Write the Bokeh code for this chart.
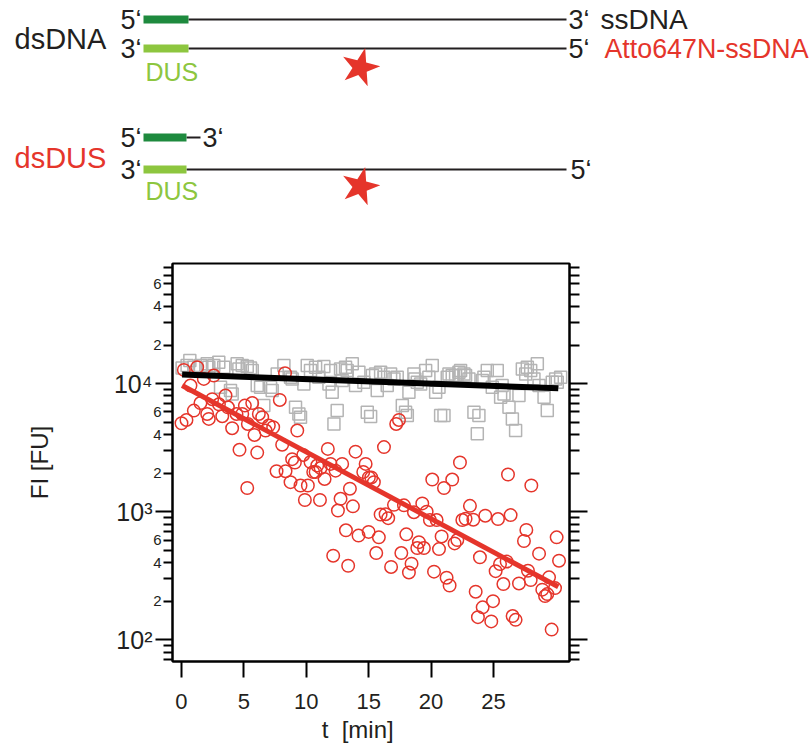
from bokeh.plotting import figure
from bokeh.models import Range1d, FixedTicker, LogAxis, LinearScale
from bokeh.embed import file_html
from bokeh.resources import INLINE
from bokeh.core.properties import value

# ---------------- data ----------------
dsdna_t = [0.05, 0.45, 0.67, 0.99, 1.52, 2.06, 2.19, 2.59, 2.99, 3.13, 3.39, 3.93, 4.06, 4.46, 4.6, 4.87,
           5.27, 5.53, 5.67, 6.07, 6.34, 6.6, 7.14, 7.27, 7.67, 8.21, 8.74, 8.87, 9.14, 9.41, 9.54, 9.81,
           10.08, 10.34, 10.75, 11.01, 11.41, 11.82, 11.95, 12.08, 12.22, 12.48, 12.75, 12.88, 13.15, 13.28,
           13.69, 13.95, 14.22, 14.62, 14.89, 15.16, 15.3, 15.56, 15.69, 15.96, 16.23, 16.49, 16.76, 17.03,
           17.29, 17.7, 17.96, 18.1, 18.23, 18.63, 18.7, 18.9, 19.17, 19.57, 19.83, 20.1, 20.37, 20.64,
           20.77, 21.04, 21.3, 21.44, 21.7, 21.97, 22.24, 22.37, 22.64, 22.77, 23.04, 23.44, 23.71, 23.84,
           24.11, 24.24, 24.51, 24.91, 25.31, 25.58, 25.7, 25.85, 26.25, 26.52, 26.78, 27.05, 27.32, 27.59,
           27.72, 27.99, 28.25, 28.52, 28.66, 29.06, 29.32, 29.72, 29.99, 30.12, 30.39]
dsdna_fi = [13260, 13820, 15130, 13420, 13820, 14260, 13420, 13820, 14680, 9360, 13420, 8820, 8300, 14260, 13020, 13820,
            13580, 13260, 12640, 9650, 9360, 6730, 9360, 8820, 11900, 13820, 11200, 10880, 6530, 5790, 5460, 9940,
            13820, 12640, 13420, 11200, 13580, 9940, 12640, 8560, 4840, 6150, 13020, 10550, 13420, 12640,
            14260, 9650, 12260, 10240, 5970, 5520, 11550, 11900, 8820, 12260, 11200, 9650, 11900, 10880,
            11200, 6730, 5970, 5620, 8560, 11900, 10880, 10240, 9940, 12640, 11200, 13820, 8560, 9360,
            5620, 5620, 11200, 11900, 11550, 11550, 12260, 12640, 11900, 11550, 10880, 5970, 4050, 5620,
            10550, 11200, 12640, 9360, 12640, 7820, 9650, 8300, 6530, 5300, 4300, 8060, 13020, 11900,
            13420, 12640, 10880, 14260, 9650, 7820, 6150, 10240, 10880, 10240, 11200]

dsdus_t = [0.0, 0.19, 0.4, 0.72, 0.99, 1.26, 1.52, 1.79, 2.06, 2.19, 2.46, 2.59, 3.0, 3.27, 3.53, 3.72,
           4.06, 4.41, 4.65, 4.87, 5.08, 5.27, 5.32, 5.67, 5.85, 6.07, 6.2, 6.47, 6.74, 7.0, 7.35, 7.62,
           7.88, 8.07, 8.3, 8.34, 8.74, 8.87, 9.09, 9.28, 9.54, 9.76, 9.89, 10.13, 10.34, 10.56, 10.75, 10.88,
           11.1, 11.15, 11.47, 11.73, 11.95, 12.16, 12.35, 12.54, 12.75, 12.88, 13.18, 13.36, 13.5, 13.74,
           13.95, 14.19, 14.57, 14.76, 15.0, 15.02, 15.21, 15.42, 15.61, 15.82, 15.96, 16.23, 16.36, 16.57,
           16.8, 17.03, 17.21, 17.43, 17.62, 17.83, 18.02, 18.23, 18.44, 18.63, 18.9, 19.03, 19.3, 19.43,
           19.65, 19.91, 20.1, 20.24, 20.45, 20.64, 20.85, 21.04, 21.25, 21.49, 21.7, 21.89, 22.11, 22.32,
           22.51, 22.77, 23.12, 23.39, 23.58, 23.76, 23.92, 24.14, 24.35, 24.83, 24.97, 25.18, 25.37, 25.53,
           25.8, 26.06, 26.17, 26.38, 26.54, 26.78, 27.05, 27.45, 27.64, 27.77, 27.99, 28.04, 28.66, 28.92,
           29.14, 29.32, 29.46, 29.67, 29.94, 30.07, 30.26]
dsdus_fi = [4900, 12790, 5200, 9650, 6150, 13420, 7050, 10880, 5790, 5300, 7550, 11550, 6890, 5560, 8060, 6530,
            4480, 5790, 3040, 5790, 6730, 1530, 4840, 7050, 3970, 2890, 5790, 5460, 4300, 4700, 4560, 2070,
            7450, 3330, 12040, 2070, 1700, 2570, 2420, 4300, 1600, 2770, 1233, 1600, 2440, 2040, 2040, 2290,
            1233, 2190, 1800, 3090, 2360, 453, 2090, 1020, 1260, 2360, 715, 378, 1510, 1100,
            2940, 650, 2040, 2360, 695, 1850, 1850, 1700, 475, 630, 950, 3190, 955, 890,
            370, 1130, 4840, 5200, 475, 1120, 665, 335, 392, 990, 520, 578, 1160, 520,
            1000, 860, 1780, 340, 860, 510, 640, 1530, 305, 265, 1780, 565, 600, 2420,
            860, 880, 1110, 865, 237, 150, 440, 179, 930, 139, 200, 343, 875, 390,
            272, 408, 1950, 940, 153, 143, 275, 590, 720, 346, 292, 1600, 470, 246,
            219, 227, 307, 120, 253, 630, 414]

fit_t = [0.05, 30.2]
fit_dsdna = [11770, 9195]
fit_dsdus = [9650, 259]

x_ticks = [0, 5, 10, 15, 20, 25]
y_decades = [100, 1000, 10000]
y_decade_labels = ["10\u00b2", "10\u00b3", "10\u2074"]
y_minor = [70, 80, 90, 200, 300, 400, 500, 600, 700, 800, 900,
           2000, 3000, 4000, 5000, 6000, 7000, 8000, 9000,
           20000, 30000, 40000, 50000, 60000, 70000, 80000]
y_mid = [200, 400, 600, 2000, 4000, 6000, 20000, 40000, 60000]
y_mid_labels = ["2", "4", "6", "2", "4", "6", "2", "4", "6"]

FONT = "Liberation Sans"
INK = "#231f20"
RED = "#e5352b"
GRAY = "#b4b4b4"
DKGREEN = "#1e8a3e"
LTGREEN = "#8dc63f"
NB = "\u00a0"

# page geometry (page pixels; figure sits at the page origin)
W, H = 810, 749
FL, FR, FT, FB = 172, 569, 263, 661

p = figure(frame_width=FR - FL, frame_height=FB - FT, y_axis_type="log",
           x_range=Range1d(-0.72, 31.1), y_range=Range1d(67.6, 86600),
           toolbar_location=None, output_backend="svg",
           min_border_left=FL, min_border_right=W - FR, min_border_top=FT, min_border_bottom=H - FB)
p.grid.visible = False
p.outline_line_color = "black"
p.outline_line_width = 2
p.background_fill_color = None
p.border_fill_color = None

# page-pixel ranges for the schematic (drawn above the frame, unclipped)
p.extra_x_ranges = {"px": Range1d(FL, FR)}
p.extra_y_ranges = {"py": Range1d(FB, FT)}
p.extra_x_scales = {"px": LinearScale()}
p.extra_y_scales = {"py": LinearScale()}
PX = dict(x_range_name="px", y_range_name="py", level="overlay")

# ---------------- scatter + fits ----------------
p.scatter(dsdna_t, dsdna_fi, marker="square", size=12, fill_color=None, line_color=GRAY, line_width=1.5)
p.scatter(dsdus_t, dsdus_fi, marker="circle", size=12.5, fill_color=None, line_color=RED, line_width=1.5)
p.line(fit_t, fit_dsdna, line_color="black", line_width=6)
p.line(fit_t, fit_dsdus, line_color=RED, line_width=5)

# x axis
xa = p.xaxis[0]
xa.ticker = FixedTicker(ticks=x_ticks)
xa.major_tick_in = 0
xa.major_tick_out = 16
xa.major_tick_line_width = 2
xa.minor_tick_line_color = None
xa.axis_line_width = 2
xa.major_label_text_font = FONT
xa.major_label_text_font_size = "22px"
xa.major_label_text_color = INK
xa.major_label_standoff = 16
xa.axis_label = "t" + NB + " [min]" + NB * 4
xa.axis_label_text_font = FONT
xa.axis_label_text_font_size = "24px"
xa.axis_label_text_font_style = "normal"
xa.axis_label_text_color = INK
xa.axis_label_standoff = 4

# main y axis
ya = p.yaxis[0]
ya.ticker = FixedTicker(ticks=y_decades, minor_ticks=y_minor)
ya.major_label_overrides = dict(zip(y_decades, y_decade_labels))
ya.major_tick_in = 0
ya.major_tick_out = 17
ya.minor_tick_in = 0
ya.minor_tick_out = 9
ya.major_tick_line_width = 2
ya.minor_tick_line_width = 2
ya.axis_line_width = 2
ya.major_label_text_font = FONT
ya.major_label_text_font_size = "25px"
ya.major_label_text_color = INK
ya.major_label_standoff = 3
ya.axis_label = "FI [FU]"
ya.axis_label_text_font = FONT
ya.axis_label_text_font_size = "24px"
ya.axis_label_text_font_style = "normal"
ya.axis_label_text_color = INK
ya.axis_label_standoff = 58

# 2/4/6 intermediate labels on the left axis
p.text(x=[FL - 11] * len(y_mid), y=y_mid, text=y_mid_labels, x_range_name="px", level="overlay",
       text_align="right", text_baseline="middle", text_font=value(FONT), text_font_size="15px",
       text_color=INK)

# right axis
yr = LogAxis(ticker=FixedTicker(ticks=y_decades, minor_ticks=y_minor))
yr.major_label_overrides = {v: "" for v in y_decades}
yr.major_tick_in = 0
yr.major_tick_out = 18
yr.minor_tick_in = 0
yr.minor_tick_out = 10
yr.major_tick_line_width = 2
yr.minor_tick_line_width = 2
yr.axis_line_width = 2
p.add_layout(yr, "right")

# ---------------- schematic (page pixel coordinates) ----------------
strand_lines = [(188, 566, 19), (188, 566, 48), (186, 200, 137), (186, 566, 169)]
for x0, x1, y in strand_lines:
    p.line([x0, x1], [y, y], line_color=INK, line_width=2, **PX)
bars = [(143, 188, 19, DKGREEN), (143, 188, 48, LTGREEN), (143, 186, 137, DKGREEN), (143, 186, 169, LTGREEN)]
for l, r, y, c in bars:
    p.quad(left=l, right=r, top=y - 4, bottom=y + 4, fill_color=c, line_color=None, **PX)

labels = [
    (141, 19, "5\u2018", INK, "right", 27), (568, 19, "3\u2018", INK, "left", 27), (600, 19, "ssDNA", INK, "left", 28),
    (141, 48, "3\u2018", INK, "right", 27), (568, 48, "5\u2018", INK, "left", 27),
    (604, 48, "Atto647N-ssDNA", RED, "left", 26.8),
    (14, 38, "dsDNA", INK, "left", 29), (145, 71, "DUS", LTGREEN, "left", 25),
    (141, 137, "5\u2018", INK, "right", 27), (202, 137, "3\u2018", INK, "left", 27),
    (141, 169, "3\u2018", INK, "right", 27), (570, 169, "5\u2018", INK, "left", 27),
    (14, 157, "dsDUS", RED, "left", 29), (145, 190, "DUS", LTGREEN, "left", 25),
]
for x, y, t, c, a, fs in labels:
    p.text(x=[x], y=[y], text=[t], text_color=c, text_align=a, text_baseline="middle",
           text_font=value(FONT), text_font_size=f"{fs}px", **PX)

stars = [(360, 66), (360, 185)]
p.text(x=[q[0] for q in stars], y=[q[1] for q in stars], text=["\u2605"] * len(stars),
       text_color=RED, text_align="center", text_baseline="middle", angle=-0.25,
       text_font=value("DejaVu Sans"), text_font_size="50px", **PX)

open("out.html", "w").write(file_html(p, INLINE))
